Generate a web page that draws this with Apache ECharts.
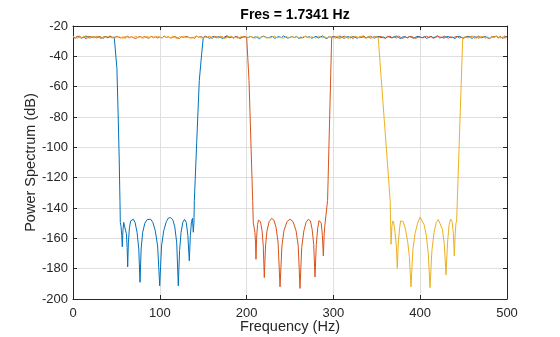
<!DOCTYPE html>
<html>
<head>
<meta charset="utf-8">
<script src="https://cdn.jsdelivr.net/npm/echarts@6/dist/echarts.min.js"></script>
<style>
  html, body { margin: 0; padding: 0; background: #fff; }
  #chart { width: 560px; height: 337px; }
</style>
</head>
<body>
<div id="chart"></div>
<script>
// Power spectra of white noise through three bandstop filters.
const titleText = 'Fres = 1.7341 Hz';
const xTicks = [0, 100, 200, 300, 400, 500];
const yTicks = [-200, -180, -160, -140, -120, -100, -80, -60, -40, -20];
const noiseStep = 2.5; // Hz between passband samples

// Blue: passband levels 0 .. 47.5 Hz
const blueNoiseLo = [-27.1,-27.8,-26.9,-27.4,-28.0,-27.2,-26.6,-27.5,-27.9,-27.0,-27.6,-26.8,-27.3,-28.2,-27.4,-26.9,-27.7,-27.1,-27.9,-27.2];
// Blue: stopband edge and sidelobes [Hz, dB]
const blueStop = [
  [49.2,-27.6],[50.6,-48],[52.0,-78],[53.2,-107],[54.1,-135],[54.5,-149.5],[55.3,-152],[56.1,-158],[56.8,-165.6],[57.5,-155],
  [58.4,-149.5],[59.3,-148.3],[60.3,-150.5],[61.5,-157],[62.4,-166],[63.0,-178.8],[63.8,-163],[65,-153],
  [66.5,-148.5],[68,-147.2],[69.5,-147.4],[71.5,-149.5],[73.8,-156],[75.8,-167],[77.2,-189],[78.5,-167],
  [80.3,-156],[82.8,-150],[85.5,-147.6],[87.5,-146.8],[89.5,-147.4],[92,-149.5],[94.8,-155],[97.5,-165],
  [99.9,-191.3],[102,-165],[104.5,-155],[107.5,-149],[110,-146.6],[112.5,-146.3],[115,-147.8],[117.3,-152.5],
  [119.5,-163],[121.3,-191.3],[122.8,-168],[124.5,-156],[126.5,-149.5],[128.5,-147.5],[130.5,-149.5],
  [132.3,-158],[134.0,-174.8],[135.2,-158],[136.5,-149],[137.6,-146.8],[138.6,-156],[139.3,-150],
  [139.8,-135],[142.5,-97],[145.5,-56],[148.2,-38.6],[150.1,-27.5]
];
// Blue: passband levels 152.5 .. 500 Hz
const blueNoiseHi = [
  -26.7,-27.5,-28.1,-27.3,-26.9,-27.8,-27.0,-27.4,-28.3,-27.1,-26.5,-27.6,-27.2,-27.9,-26.8,-27.5,-28.0,-27.3,-26.9,-27.7,
  -27.4,-26.8,-27.9,-27.1,-27.6,-28.4,-27.0,-26.7,-27.5,-27.8,-27.2,-26.9,-28.1,-27.4,-27.0,-27.7,-26.6,-27.3,-28.0,-27.5,
  -27.0,-27.6,-26.9,-28.2,-27.3,-27.8,-26.7,-27.4,-27.1,-28.0,-27.5,-26.8,-27.9,-27.2,-26.6,-27.7,-28.3,-27.0,-27.4,-26.9,
  -27.8,-27.2,-26.6,-27.5,-28.1,-27.3,-27.0,-27.9,-26.8,-27.4,-28.2,-27.1,-27.6,-26.9,-27.8,-27.3,-26.7,-27.5,-28.0,-27.2,
  -26.9,-27.7,-27.3,-28.0,-26.8,-27.4,-27.9,-27.1,-26.6,-27.6,-28.3,-27.2,-27.0,-27.8,-26.9,-27.5,-28.1,-27.3,-26.7,-27.4,
  -27.6,-27.0,-28.2,-27.4,-26.8,-27.7,-27.2,-26.5,-27.9,-27.3,-28.0,-27.1,-26.9,-27.6,-27.4,-28.3,-27.0,-26.8,-27.5,-27.9,
  -27.2,-26.8,-27.6,-28.1,-27.0,-27.5,-26.7,-27.9,-27.3,-26.9,-27.8,-28.2,-27.1,-27.4,-26.6,-27.7,-27.2,-28.0,-27.5,-26.9
];

// Orange: passband levels 0 .. 197.5 Hz
const orangeNoiseLo = [
  -27.5,-28.0,-27.1,-26.7,-27.8,-27.3,-28.4,-27.0,-26.9,-27.6,-27.2,-27.9,-26.8,-27.4,-28.1,-27.0,-27.7,-26.6,-27.3,-27.8,
  -26.8,-27.4,-27.9,-27.2,-28.0,-26.7,-27.5,-27.1,-27.8,-28.2,-27.3,-26.9,-27.6,-27.0,-27.7,-28.1,-26.8,-27.4,-27.2,-27.9,
  -27.3,-27.9,-26.6,-27.5,-27.1,-28.0,-27.4,-26.9,-27.7,-28.3,-27.0,-27.6,-26.8,-27.2,-27.9,-27.5,-28.1,-26.7,-27.4,-27.0,
  -27.7,-27.1,-27.5,-26.8,-28.2,-27.3,-26.9,-27.8,-27.0,-27.4,-28.0,-26.7,-27.6,-27.2,-27.9,-26.9,-27.3,-28.1,-27.5,-27.0
];
// Orange: stopband edge and sidelobes [Hz, dB]
const orangeStop = [
  [200.1,-27.5],[202.8,-56],[207,-135],[207.7,-149.7],[208.6,-148.5],[209.6,-156],[210.3,-163],[210.8,-173.8],
  [211.5,-160],[212.6,-151],[213.6,-148],[214.7,-147.4],[216,-149],[217.8,-155],[219.2,-165],[220.4,-185.9],
  [221.8,-165],[223.5,-155],[226,-149],[228.9,-146.8],[231.5,-148],[234,-153],[236.3,-163],[238.5,-192],
  [240.7,-165],[243,-155],[246.5,-149],[250,-147.4],[253.5,-149],[257,-155],[259.5,-165],[261.5,-193],
  [263.5,-166],[266,-155],[268.5,-149.5],[271.1,-147.4],[273.5,-148.5],[275.5,-154],[277.3,-164],[278.8,-185.5],
  [280.3,-164],[282,-153],[283.5,-148.3],[284.6,-147.4],[286,-150],[287.3,-158],[288.4,-171.6],[289.4,-157],
  [290.3,-150.7],[291.3,-151],[292.6,-150],[293.3,-135],[298,-27.5]
];
// Orange: passband levels 302.5 .. 500 Hz
const orangeNoiseHi = [
  -27.0,-27.8,-28.1,-27.3,-26.7,-27.5,-27.9,-27.1,-28.3,-26.9,-27.4,-27.7,-27.0,-26.6,-27.8,-27.2,-28.0,-27.5,-26.9,-27.3,
  -27.4,-26.9,-27.7,-28.0,-27.2,-26.8,-27.6,-27.3,-27.9,-26.7,-27.5,-28.2,-27.1,-27.8,-27.0,-26.9,-27.6,-28.1,-27.4,-27.2,
  -27.9,-27.3,-26.8,-27.6,-27.0,-28.1,-27.5,-26.9,-27.2,-27.8,-26.6,-27.4,-28.0,-27.1,-27.7,-27.3,-26.8,-27.9,-27.5,-28.2,
  -27.1,-27.6,-27.0,-26.7,-27.9,-27.4,-28.0,-27.2,-26.9,-27.8,-27.5,-28.3,-27.0,-27.3,-26.8,-27.7,-27.1,-27.9,-26.6,-27.5
];

// Yellow: passband levels 0 .. 347.5 Hz
const yellowNoiseLo = [
  -26.9,-27.5,-28.1,-27.2,-27.7,-26.8,-27.4,-28.0,-27.3,-27.0,-27.8,-26.7,-27.6,-28.2,-27.1,-27.5,-26.9,-27.7,-27.4,-28.0,
  -27.6,-27.0,-27.4,-28.2,-26.8,-27.3,-27.9,-27.1,-27.6,-26.6,-27.8,-27.2,-28.1,-27.5,-26.9,-27.4,-27.0,-28.0,-27.3,-26.8,
  -27.3,-28.0,-26.9,-27.5,-27.2,-27.8,-26.7,-27.6,-28.3,-27.0,-27.4,-26.8,-27.9,-27.1,-27.7,-28.0,-27.2,-26.6,-27.5,-27.8,
  -27.8,-27.2,-27.5,-26.9,-28.0,-27.4,-27.1,-27.7,-26.8,-27.3,-28.2,-27.6,-27.0,-26.7,-27.9,-27.4,-28.1,-27.2,-26.9,-27.6,
  -27.2,-27.7,-26.8,-27.4,-28.1,-27.0,-27.6,-27.3,-26.9,-27.9,-27.5,-28.0,-27.1,-26.7,-27.8,-27.3,-27.6,-28.2,-27.0,-27.4,
  -27.5,-26.9,-27.8,-27.1,-27.6,-28.3,-27.2,-26.8,-27.4,-27.9,-27.0,-27.5,-28.0,-26.6,-27.3,-27.7,-27.1,-27.8,-26.9,-27.4,
  -28.0,-27.3,-26.7,-27.6,-27.1,-27.9,-27.4,-28.2,-26.9,-27.5,-27.0,-27.8,-27.3,-26.8,-27.6,-28.1,-27.2,-27.0,-27.7,-27.3
];
// Yellow: stopband edge and sidelobes [Hz, dB]
const yellowStop = [
  [351.6,-27.5],[365.4,-135],[366.4,-163.9],[367.4,-152],[368.6,-148.5],[369.6,-150],[371,-156],[372.5,-165],
  [373.6,-179.7],[374.8,-163],[376.3,-153],[377.5,-148.5],[378.7,-147.6],[380.5,-149],[383,-154],[385.5,-162],
  [387.5,-172],[389.4,-192],[391.5,-168],[394,-157],[397,-150],[399.8,-146],[402,-146.8],[404.5,-151],
  [407,-158],[409.3,-170],[411.3,-192.5],[413.5,-168],[416,-156],[418.5,-149.5],[420.9,-147.6],[423,-148.8],
  [425.5,-154],[427.8,-164],[429.7,-184.1],[431.5,-163],[433.3,-151],[435.1,-147.3],[436.8,-149],[438.2,-157],
  [439.3,-171.6],[440.3,-157],[441.2,-150],[442,-148.5],[449,-27.5]
];
// Yellow: passband levels 452.5 .. 500 Hz
const yellowNoiseHi = [-27.1,-27.8,-27.4,-26.9,-27.6,-28.0,-27.2,-27.5,-26.7,-27.9,-27.3,-28.1,-27.0,-27.6,-26.8,-27.4,-27.9,-27.2,-28.0,-27.5];

// Join a low passband, a stopband and a high passband into [Hz, dB] pairs.
function buildSeries(lo, loStart, stop, hi, hiStart) {
  const pts = lo.map((v, i) => [loStart + i * noiseStep, v]);
  stop.forEach(p => pts.push(p));
  hi.forEach((v, i) => pts.push([hiStart + i * noiseStep, v]));
  return pts;
}

const blueData = buildSeries(blueNoiseLo, 0, blueStop, blueNoiseHi, 152.5);
const orangeData = buildSeries(orangeNoiseLo, 0, orangeStop, orangeNoiseHi, 302.5);
const yellowData = buildSeries(yellowNoiseLo, 0, yellowStop, yellowNoiseHi, 452.5);

const FONT = '"Liberation Sans", Arial, Helvetica, sans-serif';
const INK = '#262626';
const GRID = '#dfdfdf';

function lineSeries(data, color) {
  return {
    type: 'line', data, showSymbol: false, symbol: 'none',
    lineStyle: { color, width: 1 }, itemStyle: { color },
    emphasis: { disabled: true }, z: 3
  };
}

const chart = echarts.init(document.getElementById('chart'), null, { renderer: 'canvas' });
chart.setOption({
  animation: false,
  backgroundColor: '#ffffff',
  title: {
    text: titleText, left: 290, top: 3, textAlign: 'center',
    textStyle: { fontFamily: FONT, fontSize: 14, fontWeight: 'bold', color: '#000' }
  },
  grid: { left: 73, right: 53, top: 26, bottom: 38, containLabel: false, outerBoundsMode: 'none' },
  xAxis: [
    {
      type: 'value', min: xTicks[0], max: xTicks[xTicks.length - 1], interval: 100,
      name: 'Frequency (Hz)', nameLocation: 'middle', nameGap: 20, nameMoveOverlap: false,
      nameTextStyle: { fontFamily: FONT, fontSize: 14.5, color: INK },
      axisLine: { show: true, onZero: false, lineStyle: { color: INK, width: 1 } },
      axisTick: { show: true, inside: true, length: 4, lineStyle: { color: INK } },
      axisLabel: { fontFamily: FONT, fontSize: 13, color: INK, margin: 8 },
      splitLine: { show: true, lineStyle: { color: GRID, width: 1 } }
    },
    {
      type: 'value', position: 'top', min: xTicks[0], max: xTicks[xTicks.length - 1], interval: 100,
      axisLine: { show: true, onZero: false, lineStyle: { color: INK, width: 1 } },
      axisTick: { show: true, inside: true, length: 4, lineStyle: { color: INK } },
      axisLabel: { show: false }, splitLine: { show: false }
    }
  ],
  yAxis: [
    {
      type: 'value', min: yTicks[0], max: yTicks[yTicks.length - 1], interval: 20,
      name: 'Power Spectrum (dB)', nameLocation: 'middle', nameGap: 35, nameMoveOverlap: false,
      nameTextStyle: { fontFamily: FONT, fontSize: 14.5, color: INK },
      axisLine: { show: true, onZero: false, lineStyle: { color: INK, width: 1 } },
      axisTick: { show: true, inside: true, length: 4, lineStyle: { color: INK } },
      axisLabel: { fontFamily: FONT, fontSize: 13, color: INK, margin: 5 },
      splitLine: { show: true, lineStyle: { color: GRID, width: 1 } }
    },
    {
      type: 'value', position: 'right', min: yTicks[0], max: yTicks[yTicks.length - 1], interval: 20,
      axisLine: { show: true, onZero: false, lineStyle: { color: INK, width: 1 } },
      axisTick: { show: true, inside: true, length: 4, lineStyle: { color: INK } },
      axisLabel: { show: false }, splitLine: { show: false }
    }
  ],
  series: [
    lineSeries(blueData, '#0072BD'),
    lineSeries(orangeData, '#D95319'),
    lineSeries(yellowData, '#EDB120')
  ]
});
</script>
</body>
</html>
